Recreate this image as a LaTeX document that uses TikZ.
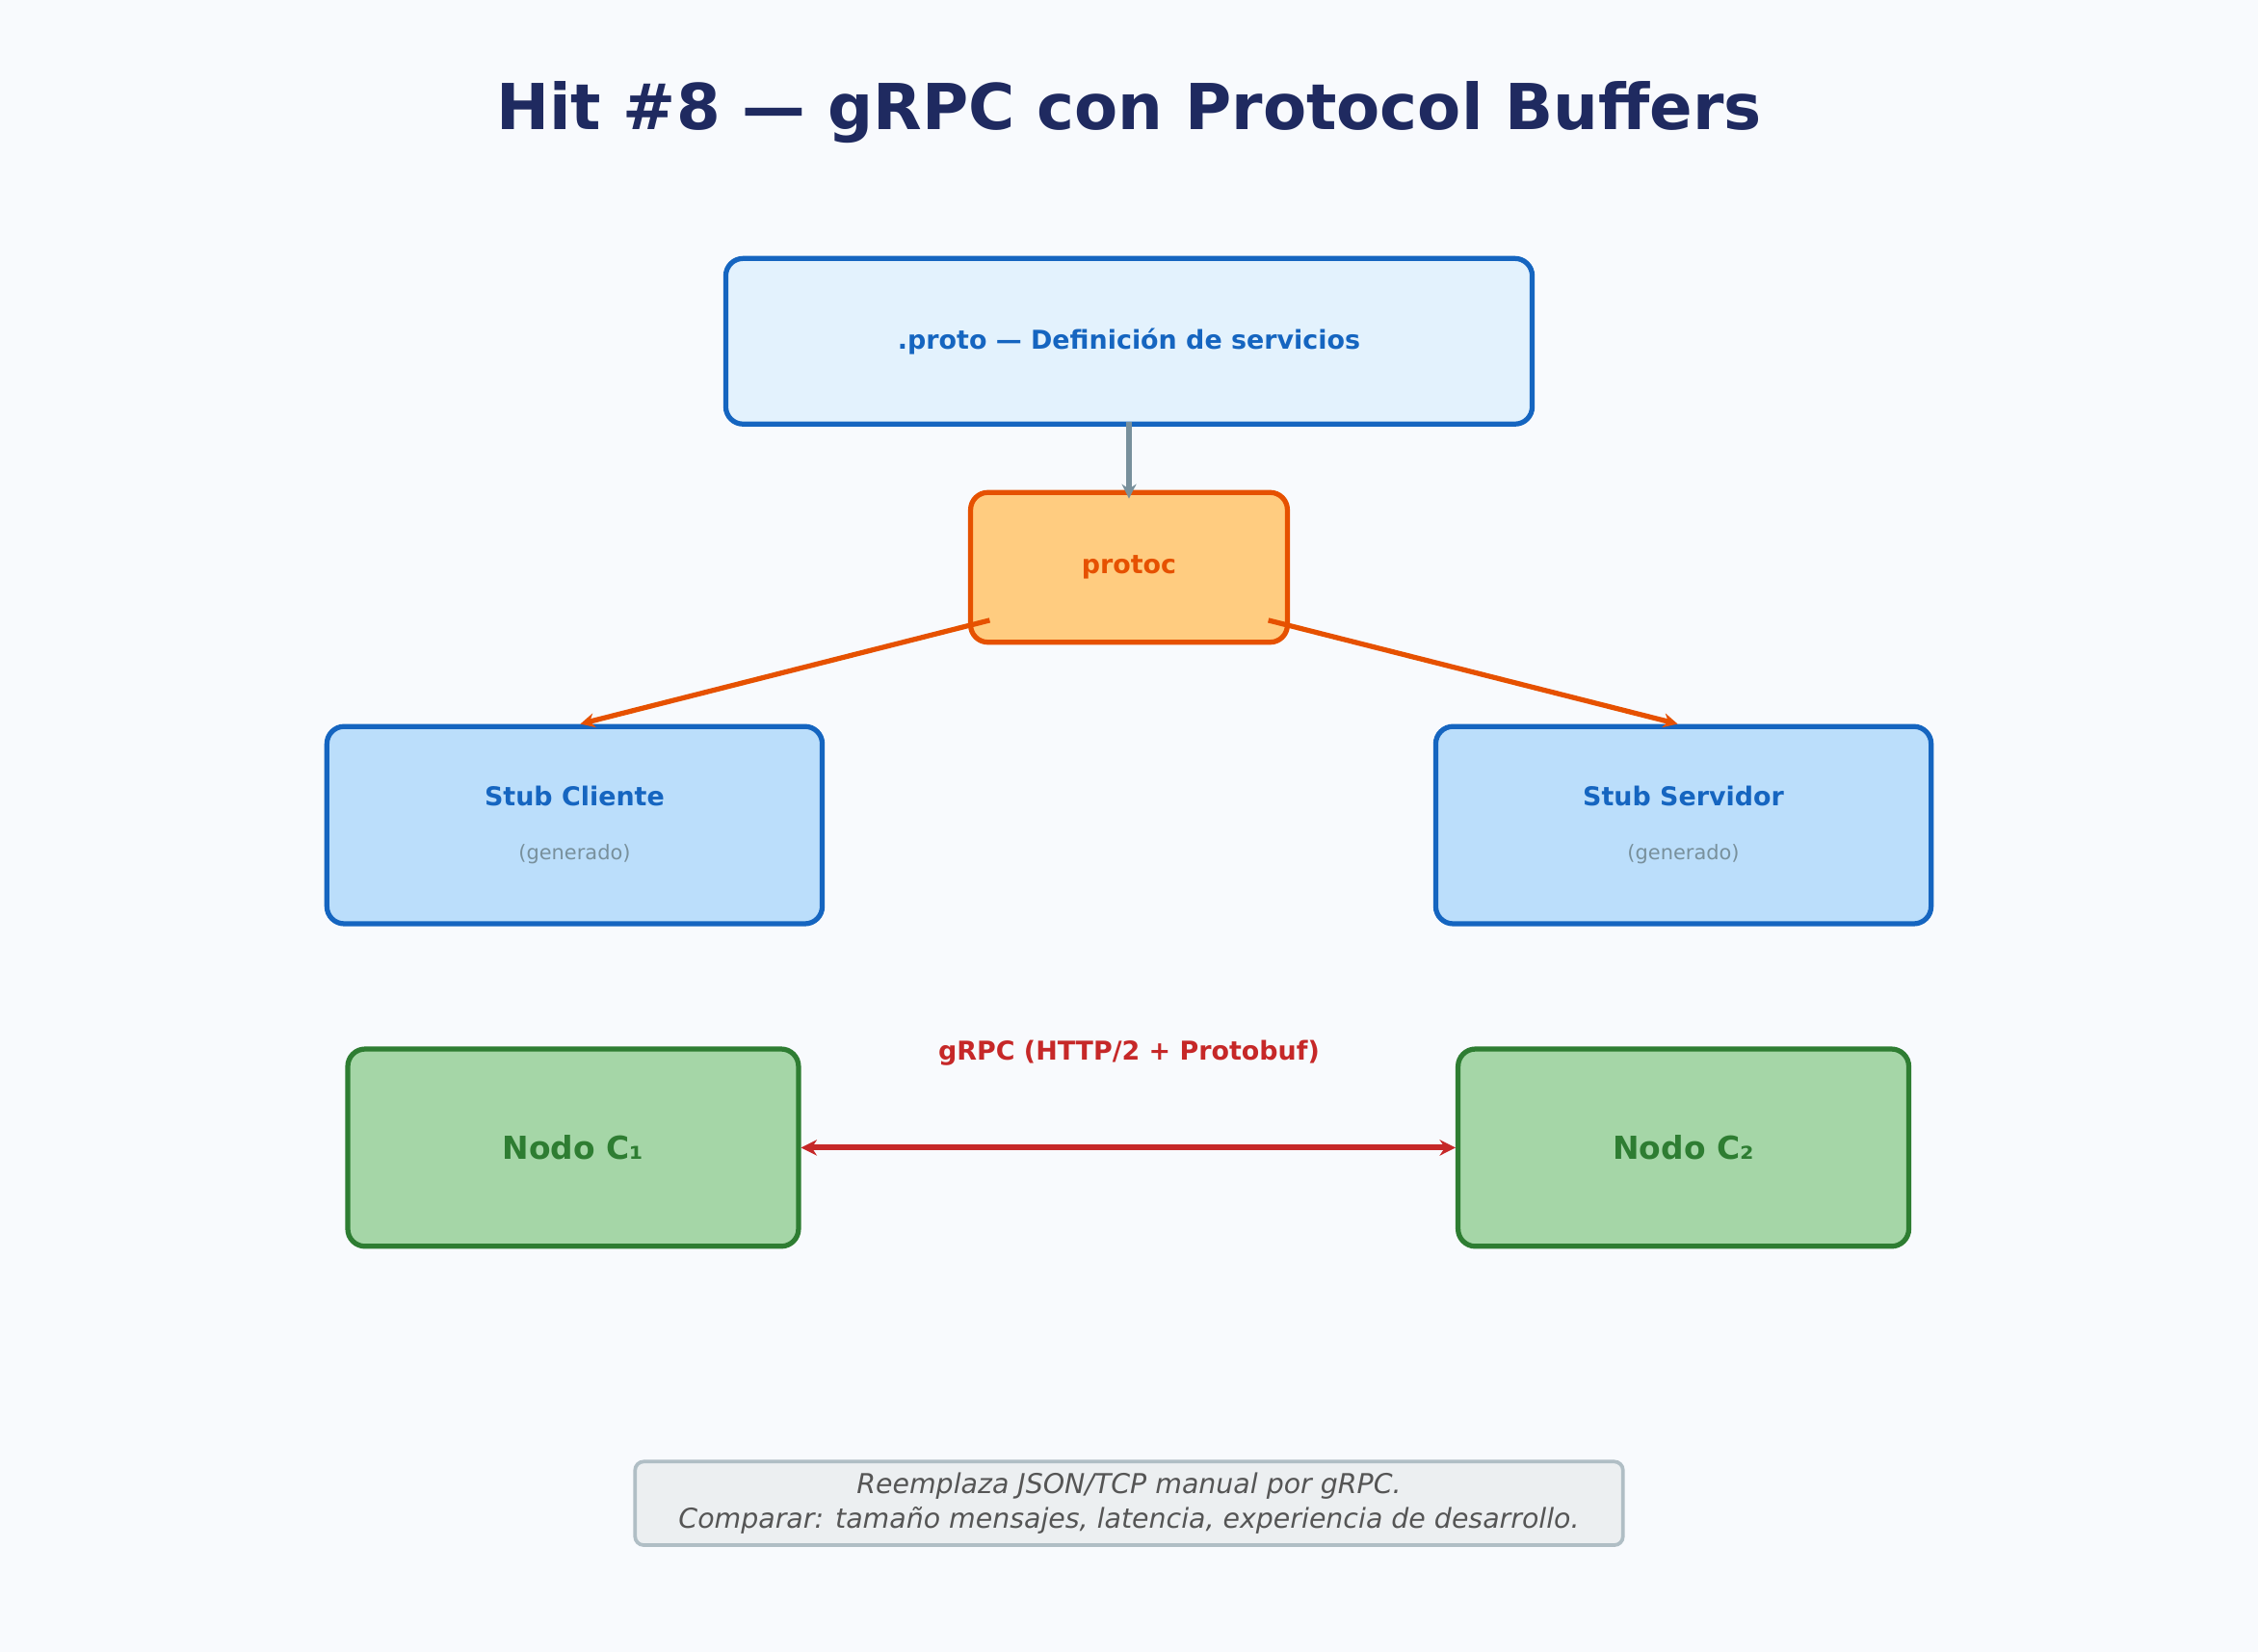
\documentclass[tikz,border=0pt]{standalone}
\usepackage{fontspec}
\setmainfont{DejaVu Sans}
\usetikzlibrary{arrows.meta}
\definecolor{bg}{HTML}{F8FAFD}
\definecolor{ttl}{HTML}{1F2A60}
\definecolor{blu}{HTML}{1565C0}
\definecolor{blul}{HTML}{E3F2FD}
\definecolor{blum}{HTML}{BBDEFB}
\definecolor{org}{HTML}{E65100}
\definecolor{orgl}{HTML}{FFCC80}
\definecolor{grn}{HTML}{2E7D32}
\definecolor{grnl}{HTML}{A5D6A7}
\definecolor{rd}{HTML}{C62828}
\definecolor{gra}{HTML}{78909C}
\definecolor{ftf}{HTML}{ECEFF1}
\definecolor{ftb}{HTML}{B0BEC5}
\definecolor{ftt}{HTML}{555555}
\tikzset{
 box/.style={draw, line width=3.5pt, rounded corners=12pt, inner sep=0pt, align=center},
 arr/.style={line width=3.5pt, -{Stealth[length=10pt,width=10pt]}},
}
\begin{document}
\begin{tikzpicture}[x=1pt,y=-1pt]
\fill[bg] (0,0) rectangle (1568,1147);
\useasboundingbox (0,0) rectangle (1568,1147);
\node[text=ttl, font=\fontsize{44}{50}\selectfont\bfseries] (title) at (784,78) {Hit \#8 — gRPC con Protocol Buffers};
\node[box, draw=blu, fill=blul, minimum width=560pt, minimum height=115pt, text=blu, font=\fontsize{18}{22}\selectfont\bfseries] (proto) at (784,237) {.proto — Definición de servicios};
\node[box, draw=org, fill=orgl, minimum width=220pt, minimum height=104pt, text=org, font=\fontsize{18}{22}\selectfont\bfseries] (protoc) at (784,394) {protoc};
\node[box, draw=blu, fill=blum, minimum width=344pt, minimum height=137pt] (cli) at (399,573) {};
\node[text=blu, font=\fontsize{18}{22}\selectfont\bfseries] (clit) at (399,553) {Stub Cliente};
\node[text=gra, font=\fontsize{14}{17}\selectfont] (clis) at (399,593) {(generado)};
\node[box, draw=blu, fill=blum, minimum width=344pt, minimum height=137pt] (srv) at (1169,573) {};
\node[text=blu, font=\fontsize{18}{22}\selectfont\bfseries] (srvt) at (1169,553) {Stub Servidor};
\node[text=gra, font=\fontsize{14}{17}\selectfont] (srvs) at (1169,593) {(generado)};
\node[box, draw=grn, fill=grnl, minimum width=313pt, minimum height=137pt, text=grn, font=\fontsize{22}{26}\selectfont\bfseries] (c1) at (398,797) {Nodo C₁};
\node[box, draw=grn, fill=grnl, minimum width=313pt, minimum height=137pt, text=grn, font=\fontsize{22}{26}\selectfont\bfseries] (c2) at (1169,797) {Nodo C₂};
\node[text=rd, font=\fontsize{18}{22}\selectfont\bfseries] (lbl) at (784,731) {gRPC (HTTP/2 + Protobuf)};
\node[draw=ftb, fill=ftf, line width=2.5pt, rounded corners=6pt, minimum width=686pt, minimum height=58pt, align=center, text=ftt, font=\fontsize{19}{24}\selectfont\itshape] (foot) at (784,1044) {Reemplaza JSON/TCP manual por gRPC.\\Comparar: tamaño mensajes, latencia, experiencia de desarrollo.};
\draw[arr, gra] ([yshift=3pt]proto.south) -- ([yshift=-6pt]protoc.north);
\draw[arr, org] ([xshift=15pt,yshift=17pt]protoc.south west) -- ([xshift=4pt]cli.north);
\draw[arr, org] ([xshift=-15pt,yshift=17pt]protoc.south east) -- ([xshift=-4pt]srv.north);
\draw[line width=4pt, rd, {Stealth[length=11pt,width=11pt]}-{Stealth[length=11pt,width=11pt]}] (c1.east) -- (c2.west);
\end{tikzpicture}
\end{document}
